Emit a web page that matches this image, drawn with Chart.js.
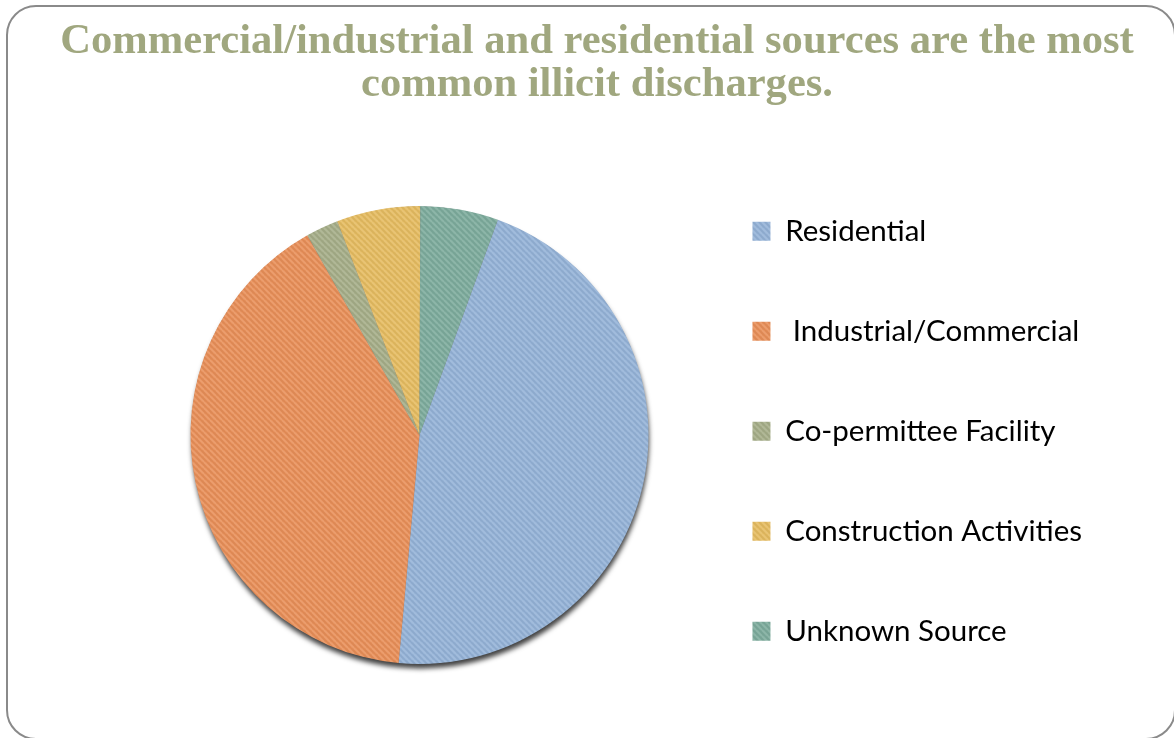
<!DOCTYPE html>
<html>
<head>
<meta charset="utf-8">
<script src="https://cdn.jsdelivr.net/npm/chart.js@4.4.1/dist/chart.umd.min.js"></script>
<style>
  html, body { margin: 0; padding: 0; background: #fff; }
  #wrap { position: relative; width: 1174px; height: 738px; overflow: hidden; }
  #frame {
    position: absolute; left: 6px; top: 5px; width: 1170px; height: 735px;
    box-sizing: border-box; border: 2px solid #8a8a8a; border-radius: 30px;
  }
  #headline {
    position: absolute; left: 20px; top: 17px; width: 1154px;
    text-align: center; font: bold 42.6px/43px "Liberation Serif", "Times New Roman", serif;
    color: #a0a77f; margin: 0;
  }
  canvas { position: absolute; left: 0; top: 0; }
</style>
</head>
<body>
<div id="wrap">
  <div id="frame"></div>
  <canvas id="chart" width="1174" height="738"></canvas>
  <h1 id="headline"></h1>
</div>
<script>
// Sources of illicit discharges (share of reported cases, %)
const categories = ['Residential', ' Industrial/Commercial', 'Co-permittee Facility', 'Construction Activities', 'Unknown Source'];
const shares = [45.9, 40.4, 2.3, 5.9, 5.5];
const sliceColors = ['#95b3d7', '#e8905a', '#a6ae89', '#e5bc62', '#7eac9d'];
const titleLines = ['Commercial/industrial and residential sources are the most', 'common illicit discharges.'];

document.getElementById('headline').innerHTML = titleLines.join('<br>');

const canvas = document.getElementById('chart');
const ctx = canvas.getContext('2d');

// Legend geometry: one column, one entry every 100px
const legendFont = { family: 'Lato', size: 29.5, lineHeight: 1 };
const legendBox = 18;
const legendGap = 70.5;         // labels.padding
const legendLeft = 681;         // left edge of the legend box
const pieCenterX = 419;

ctx.font = `${legendFont.size}px ${legendFont.family}`;
const longestLabel = Math.max(...categories.map(c => ctx.measureText(c).width));
const legendWidth = legendGap + legendBox + legendFont.size / 2 + longestLabel + 10;
const padRight = Math.max(0, Math.floor(canvas.width - legendLeft - legendWidth));
const padLeft = 2 * pieCenterX - legendLeft;

// Fine diagonal weave laid over each flat fill
function hatch(color) {
  const tile = document.createElement('canvas');
  tile.width = tile.height = 6;
  const t = tile.getContext('2d');
  t.fillStyle = color;
  t.fillRect(0, 0, 6, 6);
  t.lineWidth = 1.6;
  t.strokeStyle = 'rgba(255,255,255,0.13)';
  for (const o of [-6, 0, 6]) { t.beginPath(); t.moveTo(o, 0); t.lineTo(o + 6, 6); t.stroke(); }
  t.strokeStyle = 'rgba(0,0,0,0.05)';
  for (const o of [-3, 3]) { t.beginPath(); t.moveTo(o, 0); t.lineTo(o + 6, 6); t.stroke(); }
  return ctx.createPattern(tile, 'repeat');
}

// Drop shadow under the whole pie (drawn once, behind the slices)
const pieShadow = {
  id: 'pieShadow',
  beforeDatasetsDraw(chart) {
    const arc = chart.getDatasetMeta(0).data[0];
    if (!arc) return;
    const { x, y, outerRadius } = arc.getProps(['x', 'y', 'outerRadius'], true);
    const c = chart.ctx;
    c.save();
    c.shadowColor = 'rgba(0,0,0,0.75)';
    c.shadowBlur = 5;
    c.shadowOffsetX = 1;
    c.shadowOffsetY = 5;
    c.fillStyle = '#777';
    c.beginPath();
    c.arc(x, y, outerRadius - 0.5, 0, Math.PI * 2);
    c.fill();
    c.restore();
  }
};

new Chart(ctx, {
  type: 'pie',
  data: {
    labels: categories,
    datasets: [{
      data: shares,
      backgroundColor: sliceColors.map(hatch),
      borderWidth: 0
    }]
  },
  options: {
    responsive: false,
    animation: false,
    devicePixelRatio: 1,
    rotation: 20,
    radius: 229,
    layout: { padding: { left: padLeft, right: padRight, top: 146, bottom: 14 } },
    plugins: {
      title: { display: false },
      tooltip: { enabled: false },
      legend: {
        position: 'right',
        align: 'start',
        labels: {
          boxWidth: legendBox,
          boxHeight: 19,
          padding: legendGap,
          color: '#000',
          font: legendFont
        }
      }
    }
  },
  plugins: [pieShadow]
});
</script>
</body>
</html>
